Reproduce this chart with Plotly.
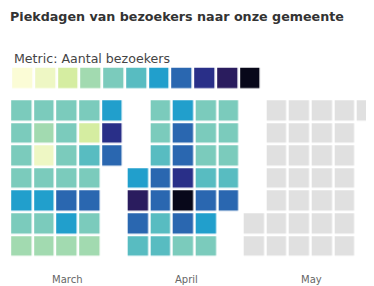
import datetime as dt
import plotly.graph_objects as go

# ---- data -------------------------------------------------------------
year = 2021
months = ["March", "April", "May"]
month_numbers = [3, 4, 5]

# daily visitor counts (Mar 1 .. Mar 31)
march_visitors = [
    2310, 2240, 2180, 2290, 3270, 2350, 1840,
    2260, 1920, 860, 2150, 3190, 2380, 1760,
    2210, 2330, 2270, 2120, 3710, 3340, 1880,
    2290, 1390, 2640, 2200, 3820, 2420, 1810,
    3150, 4260, 3680,
]
# daily visitor counts (Apr 1 .. Apr 30)
april_visitors = [
    3240, 4720, 3760, 2580,
    2460, 2380, 2610, 3690, 3810, 2720, 2560,
    3110, 3620, 3740, 4310, 5240, 3580, 2430,
    2290, 2340, 2260, 2570, 3870, 3360, 2210,
    2350, 2410, 2480, 2690, 3640,
]
# May: no data yet
may_visitors = [None] * 31

# quantized colour legend (bin lower bounds) and colours
legend_bins = [0, 500, 1000, 1500, 2000, 2500, 3000, 3500, 4000, 4500, 5000]
bin_size = 500
legend_colors = [
    "#fbfcd6", "#eef7c4", "#d5eda1", "#a2dab0", "#7bcbbc", "#58bcc1",
    "#219fcc", "#2a67b0", "#292f88", "#2a1c5e", "#08081a",
]
no_data_color = "#e0e0e0"

title = "Piekdagen van bezoekers naar onze gemeente"
metric_label = "Metric: Aantal bezoekers"

# ---- helpers ------------------------------------------------------------
zmin = legend_bins[0]
zmax = legend_bins[-1] + bin_size
n = len(legend_colors)
colorscale = []
for i, c in enumerate(legend_colors):
    colorscale.append([i / n, c])
    colorscale.append([(i + 1) / n, c])


def month_grid(month, values):
    first = dt.date(year, month, 1)
    offset = first.weekday()  # Monday = 0
    ndays = len(values)
    ncols = (offset + ndays - 1) // 7 + 1
    z = [[None] * ncols for _ in range(7)]
    for d, v in enumerate(values):
        k = offset + d
        z[k % 7][k // 7] = v
    return z, ncols


# page body has an 8px margin; axes are set up in window-pixel units
PAGE_OFF = 8
WIN_W, WIN_H = 374, 286
W, H = WIN_W - PAGE_OFF, WIN_H - PAGE_OFF
pitch_x = 22.65
pitch_y = 22.6
gap = 2.6
row0 = 110.5
month_x0 = [21.5, 138.0, 254.0]
FONT = "DejaVu Sans, Verdana, sans-serif"

fig = go.Figure()

label_x = []
for mi, (m, vals) in enumerate(zip(month_numbers, [march_visitors, april_visitors, may_visitors])):
    if m == 5:
        z, ncols = month_grid(m, [1] * len(vals))
        cs = [[0, no_data_color], [1, no_data_color]]
        fig.add_trace(go.Heatmap(
            z=z, x0=month_x0[mi], dx=pitch_x, y0=row0, dy=pitch_y,
            colorscale=cs, zmin=0, zmax=1, showscale=False,
            xgap=gap, ygap=gap, hoverinfo="skip",
        ))
    else:
        z, ncols = month_grid(m, vals)
        fig.add_trace(go.Heatmap(
            z=z, x0=month_x0[mi], dx=pitch_x, y0=row0, dy=pitch_y,
            colorscale=colorscale, zmin=zmin, zmax=zmax, showscale=False,
            xgap=gap, ygap=gap,
        ))
    label_x.append(month_x0[mi] + pitch_x * (ncols - 1) / 2)

# legend swatches
fig.add_trace(go.Heatmap(
    z=[[b + bin_size / 2 for b in legend_bins]],
    x0=22.5, dx=22.75, y0=78, dy=22.6,
    colorscale=colorscale, zmin=zmin, zmax=zmax, showscale=False,
    xgap=2.75, ygap=2.6, hoverinfo="skip",
))

annotations = [
    dict(x=8, y=16, text=f"<b>{title}</b>", xanchor="left", yanchor="middle",
         showarrow=False, font=dict(family=FONT, size=12.7, color="#333333")),
    dict(x=12, y=58, text=metric_label, xanchor="left", yanchor="middle",
         showarrow=False, font=dict(family=FONT, size=12.6, color="#444444")),
]
label_x[1] = 186
label_x[2] = 311
for name, lx in zip(months, label_x):
    annotations.append(dict(x=lx, y=279, text=name, xanchor="center", yanchor="middle",
                            showarrow=False,
                            font=dict(family=FONT, size=10, color="#666666")))

fig.update_layout(
    width=W, height=H,
    margin=dict(l=0, r=0, t=0, b=0),
    paper_bgcolor="white", plot_bgcolor="white",
    xaxis=dict(range=[PAGE_OFF, WIN_W], visible=False, fixedrange=True),
    yaxis=dict(range=[WIN_H, PAGE_OFF], visible=False, fixedrange=True),
    annotations=annotations,
    showlegend=False,
)

fig.write_html("out.html")
